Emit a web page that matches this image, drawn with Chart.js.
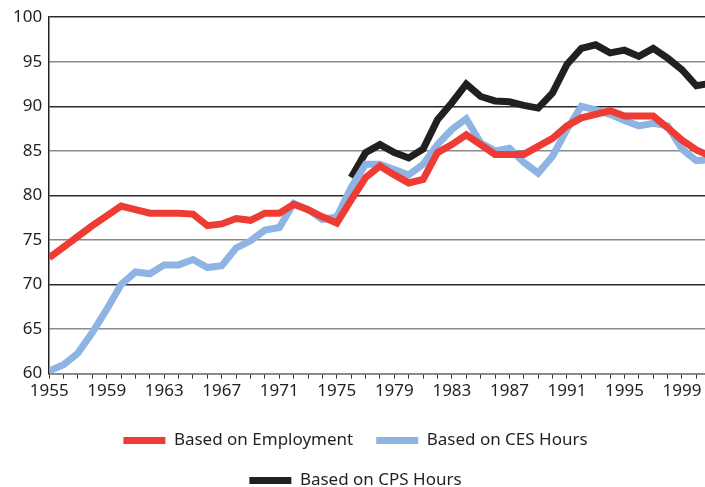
<!DOCTYPE html>
<html>
<head>
<meta charset="utf-8">
<script src="https://cdn.jsdelivr.net/npm/chart.js@4"></script>
<style>
  html, body { margin: 0; padding: 0; background: #fff; }
  canvas { display: block; }
</style>
</head>
<body>
<canvas id="chart" width="705" height="487"></canvas>
<script>
const years = [1955, 1956, 1957, 1958, 1959, 1960, 1961, 1962, 1963, 1964,
    1965, 1966, 1967, 1968, 1969, 1970, 1971, 1972, 1973, 1974,
    1975, 1976, 1977, 1978, 1979, 1980, 1981, 1982, 1983, 1984,
    1985, 1986, 1987, 1988, 1989, 1990, 1991, 1992, 1993, 1994,
    1995, 1996, 1997, 1998, 1999, 2000, 2001];

const employment = [73.0, 74.2, 75.4, 76.6, 77.7, 78.8, 78.4, 78.0, 78.0, 78.0,
    77.9, 76.6, 76.8, 77.4, 77.2, 78.0, 78.0, 79.0, 78.4, 77.6,
    76.9, 79.5, 82.0, 83.3, 82.3, 81.4, 81.8, 84.8, 85.7, 86.8,
    85.7, 84.6, 84.6, 84.6, 85.5, 86.4, 87.8, 88.7, 89.1, 89.5,
    88.9, 88.9, 88.9, 87.6, 86.2, 85.1, 84.4];

const cesHours = [60.3, 61.0, 62.3, 64.6, 67.2, 70.0, 71.4, 71.2, 72.2, 72.2,
    72.8, 71.9, 72.1, 74.1, 74.9, 76.1, 76.4, 79.1, 78.4, 77.3,
    77.6, 80.9, 83.5, 83.5, 82.9, 82.3, 83.5, 85.7, 87.4, 88.6,
    85.9, 85.0, 85.3, 83.7, 82.5, 84.4, 87.4, 90.0, 89.6, 89.1,
    88.4, 87.8, 88.1, 87.8, 85.2, 83.9, 84.0];

const cpsHours = [null, null, null, null, null, null, null, null, null, null,
    null, null, null, null, null, null, null, null, null, null,
    null, 82.0, 84.8, 85.7, 84.8, 84.2, 85.2, 88.5, 90.4, 92.5,
    91.1, 90.6, 90.5, 90.1, 89.8, 91.5, 94.7, 96.5, 96.9, 96.0,
    96.3, 95.6, 96.5, 95.4, 94.1, 92.3, 92.6];

const seriesNames = ['Based on Employment', 'Based on CES Hours', 'Based on CPS Hours'];
const yTicks = [60, 65, 70, 75, 80, 85, 90, 95, 100];
const xLabelYears = [1955, 1959, 1963, 1967, 1971, 1975, 1979, 1983, 1987, 1991, 1995, 1999];

const textColor = '#231f20';
const font = { family: "'Noto Sans', sans-serif", size: 17 };

function toPoints(values) {
    return years.map((yr, i) => ({ x: yr, y: values[i] }));
}

function lineSet(label, values, color) {
    return {
        label: label,
        data: toPoints(values),
        borderColor: color,
        backgroundColor: color,
        borderWidth: 7,
        pointRadius: 0,
        tension: 0,
        fill: false
    };
}

// push the legend a little lower without shrinking the plot
const legendShift = {
    id: 'legendShift',
    afterLayout(chart) {
        chart.legend.top += 6;
        chart.legend.bottom += 6;
    }
};

new Chart(document.getElementById('chart'), {
    type: 'line',
    data: {
        datasets: [
            lineSet(seriesNames[0], employment, '#ee3b33'),
            lineSet(seriesNames[1], cesHours, '#8db4e2'),
            lineSet(seriesNames[2], cpsHours, '#231f20')
        ]
    },
    plugins: [legendShift],
    options: {
        responsive: false,
        animation: false,
        layout: {
            padding: { left: 6, right: 0, top: 6, bottom: 0 }
        },
        plugins: {
            tooltip: { enabled: false },
            legend: {
                position: 'bottom',
                maxHeight: 84,
                labels: {
                    color: textColor,
                    font: font,
                    boxWidth: 42,
                    boxHeight: 7,
                    padding: 23,
                    generateLabels: function(chart) {
                        const items = Chart.defaults.plugins.legend.labels.generateLabels(chart);
                        return items.map(item => {
                            item.lineWidth = 0;
                            item.fillStyle = item.strokeStyle;
                            return item;
                        });
                    }
                }
            }
        },
        scales: {
            x: {
                type: 'linear',
                min: 1955,
                max: 2000.6,
                afterBuildTicks: function(axis) {
                    axis.ticks = years.filter(y => y <= 2000).map(y => ({ value: y }));
                },
                grid: {
                    drawOnChartArea: false,
                    drawTicks: true,
                    tickLength: 5,
                    color: '#333'
                },
                border: { color: '#8a8a8a', width: 1.5 },
                ticks: {
                    autoSkip: false,
                    maxRotation: 0,
                    color: textColor,
                    font: font,
                    padding: 2,
                    callback: function(v) {
                        return xLabelYears.includes(v) ? String(v) : '';
                    }
                }
            },
            y: {
                min: 60,
                max: 100,
                afterBuildTicks: function(axis) {
                    axis.ticks = yTicks.map(v => ({ value: v }));
                },
                grid: {
                    drawTicks: false,
                    lineWidth: 1.5,
                    color: function(ctx) {
                        return ctx.tick && ctx.tick.value % 10 === 0 ? '#2a2a2a' : '#8a8a8a';
                    }
                },
                border: { color: '#231f20', width: 1.5 },
                ticks: {
                    color: textColor,
                    font: font,
                    padding: 7
                }
            }
        }
    }
});
</script>
</body>
</html>
